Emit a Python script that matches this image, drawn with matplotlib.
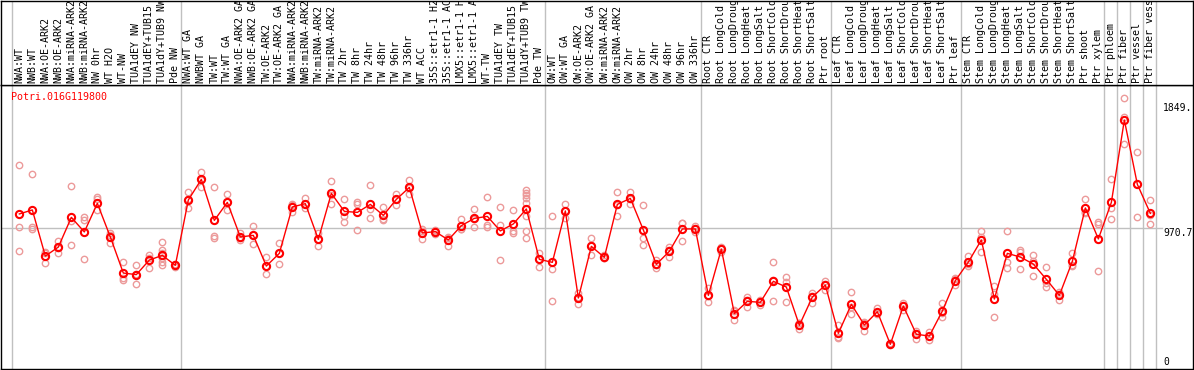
import matplotlib
matplotlib.use("Agg")
import matplotlib.pyplot as plt
import matplotlib.transforms as mtransforms

gene = "Potri.016G119800"

labels = [
    "NWA:WT", "NWB:WT", "NWA:OE-ARK2", "NWB:OE-ARK2", "NWA:miRNA-ARK2", "NWB:miRNA-ARK2",
    "NW 0hr", "WT H2O", "WT-NW", "TUA1dEY NW", "TUA1dEY+TUB15 NW", "TUA1dY+TUB9 NW", "Pde NW",
    "NWA:WT GA", "NWBWT GA", "TW:WT", "TW:WT GA", "NWA:OE-ARK2 GA", "NWB:OE-ARK2 GA",
    "TW:OE-ARK2", "TW:OE-ARK2 GA", "NWA:miRNA-ARK2", "NWB:miRNA-ARK2", "TW:miRNA-ARK2",
    "TW:miRNA-ARK2", "TW 2hr", "TW 8hr", "TW 24hr", "TW 48hr", "TW 96hr", "TW 336hr", "WT ACC",
    "35S::etr1-1 H2O", "35S::etr1-1 ACC", "LMX5::etr1-1 H2O", "LMX5::etr1-1 ACC", "WT-TW",
    "TUA1dEY TW", "TUA1dEY+TUB15 TW", "TUA1dY+TUB9 TW", "Pde TW",
    "OW:WT", "OW:WT GA", "OW:OE-ARK2", "OW:OE-ARK2 GA", "OW:miRNA-ARK2", "OW:miRNA-ARK2",
    "OW 2hr", "OW 8hr", "OW 24hr", "OW 48hr", "OW 96hr", "OW 336hr",
    "Root CTR", "Root LongCold", "Root LongDrought", "Root LongHeat", "Root LongSalt",
    "Root ShortCold", "Root ShortDrought", "Root ShortHeat", "Root ShortSalt", "Ptr root",
    "Leaf CTR", "Leaf LongCold", "Leaf LongDrought", "Leaf LongHeat", "Leaf LongSalt",
    "Leaf ShortCold", "Leaf ShortDrought", "Leaf ShortHeat", "Leaf ShortSalt", "Ptr leaf",
    "Stem CTR", "Stem LongCold", "Stem LongDrought", "Stem LongHeat", "Stem LongSalt",
    "Stem ShortCold", "Stem ShortDrought", "Stem ShortHeat", "Stem ShortSalt", "Ptr shoot",
    "Ptr xylem", "Ptr phloem", "Ptr fiber", "Ptr vessel", "Ptr fiber vessel",
]

means = [
    1072, 1100, 777, 840, 1048, 946, 1146, 911, 658, 647, 749, 782, 712,
    1170, 1314, 1027, 1153, 911, 922, 707, 796, 1121, 1144, 894, 1216, 1090, 1083, 1139,
    1062, 1174, 1258, 939, 948, 890, 990, 1041, 1055, 953, 1002, 1107, 754,
    733, 1093, 483, 845, 768, 1139, 1181, 960, 719, 810, 967, 967,
    502, 826, 374, 460, 453, 600, 560, 292, 490, 574,
    236, 439, 294, 387, 159, 427, 229, 217, 392, 605,
    735, 890, 476, 796, 770, 721, 614, 502, 740, 1114, 897,
    1153, 1730, 1279, 1076,
]

reps = [
    [1415, 978, 810], [1352, 983, 967], [803, 731, 797], [883, 801, 836],
    [1265, 1023, 854], [1053, 1030, 756], [1191, 1177, 1100], [939, 866, 928],
    [733, 626, 609], [712, 579, 650], [784, 766, 696], [878, 819, 801, 761, 738, 714],
    [719, 703, 714],
    [1223, 1111, 1176], [1366, 1263, 1313], [1258, 918, 906], [1209, 1097, 1153],
    [941, 887, 905], [985, 859, 922], [768, 649, 704], [866, 724, 798],
    [1142, 1086, 1135], [1181, 1111, 1140], [936, 850, 896], [1303, 1139, 1206],
    [1174, 1058, 1013], [1158, 1139, 957], [1275, 1107, 1041], [1118, 1030, 1040],
    [1212, 1135, 1176], [1310, 1209, 1256], [967, 897, 952], [957, 932, 954],
    [906, 850, 914], [1037, 967, 966], [1107, 983, 1034], [1188, 995, 983],
    [1118, 993, 749], [1100, 955, 941], [1237, 1221, 1203, 1181, 1147, 1058, 953, 901],
    [801, 703, 758],
    [1055, 684, 460], [1141, 1046, 1092], [521, 439, 489], [901, 782, 852],
    [782, 760, 762], [1223, 1060, 1134], [1223, 1144, 1176], [1133, 901, 852],
    [749, 693, 715], [840, 773, 817], [1011, 883, 1007], [985, 943, 973],
    [553, 457, 496], [843, 808, 827], [399, 329, 394], [493, 418, 469],
    [470, 434, 455], [733, 460, 607], [628, 593, 453], [306, 264, 306],
    [521, 449, 500], [605, 539, 578],
    [294, 201, 213], [523, 371, 423], [317, 254, 311], [411, 372, 378],
    [166, 152, 159], [450, 399, 432], [254, 194, 239], [247, 189, 215],
    [446, 352, 378], [618, 574, 623],
    [780, 707, 718], [953, 803, 914], [567, 348, 513], [953, 733, 691],
    [819, 684, 807], [784, 637, 742], [698, 558, 586], [527, 469, 510],
    [801, 712, 707], [1177, 1088, 1077], [1018, 999, 670],
    [1317, 1111, 1034], [1882, 1560, 1748], [1506, 1051, 1280], [1167, 999, 1062],
]

# first index of each group (plus end)
group_starts = [0, 13, 41, 53, 63, 73, 84, 85, 86, 87, 88]
ref_value = 970.7
axis_labels = ["1849.", "970.7", "0"]
axis_values = [1849, 970.7, 0]

W, H = 1194, 370
fig = plt.figure(figsize=(W / 100, H / 100), dpi=100)

mono = "DejaVu Sans Mono"
xlim = (-1.41, 90.28)
top_px = 85.3

ax = fig.add_axes([1 / W, 1 / H, 1192 / W, (369 - top_px) / H])
lab = fig.add_axes([1 / W, (H - top_px) / H, 1192 / W, (top_px - 0.5) / H])
for a in (ax, lab):
    a.set_xlim(*xlim)
    a.set_xticks([])
    a.set_yticks([])
    for s in a.spines.values():
        s.set_color("black")
        s.set_linewidth(1.0)
    for g in group_starts:
        a.axvline(g - 0.6, color="#c0c0c0", lw=1.0, zorder=0)

ax.set_ylim(-14, 1973)
ax.axhline(ref_value, xmax=(1162 - 1) / 1192, color="#c0c0c0", lw=1.0, zorder=0)

x = list(range(len(means)))
for i, r in enumerate(reps):
    ax.plot([i] * len(r), r, "o", ms=4.6, mfc="none", mec="#ec9a9a", mew=1.0, zorder=2)
ax.plot(x, means, "-", color="red", lw=1.0, zorder=3)
ax.plot(x, means, "o", ms=5.2, mfc="none", mec="red", mew=1.5, zorder=4)

ax.text(9.5 / 1192, 1 - 12 / (369 - top_px), gene, transform=ax.transAxes, color="red",
        fontsize=7.2, family=mono, ha="left", va="center")

tr = mtransforms.blended_transform_factory(ax.transAxes, ax.transData)
for t, v in zip(axis_labels, axis_values):
    ax.text((1163 - 1) / 1192, v, t, transform=tr, fontsize=7.0, family=mono,
            ha="left", va="bottom" if v == 0 else "top")

lab.set_ylim(0, 1)
for i, t in enumerate(labels):
    lab.text(i, 2 / top_px, t, rotation=90, ha="center", va="bottom", fontsize=7.2,
             family=mono, clip_on=True)

fig.savefig("out.png", dpi=100)
